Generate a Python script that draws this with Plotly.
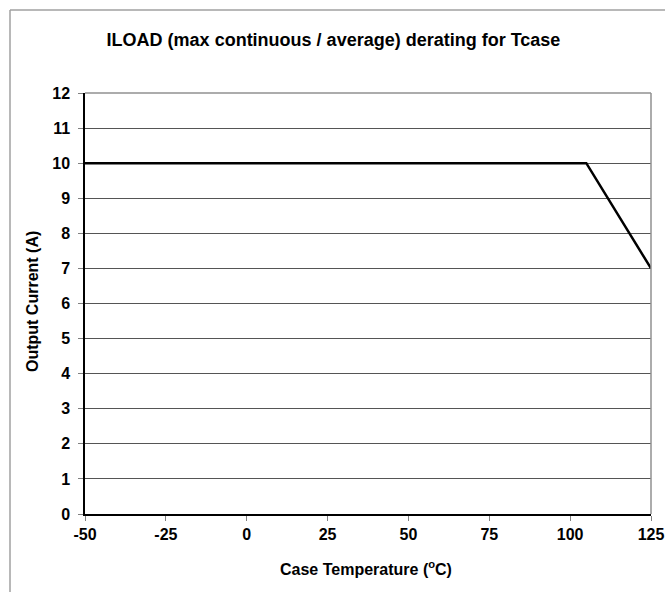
import plotly.graph_objects as go

temperature_c = [-50, 105, 125]
output_current_a = [10, 10, 7]
x_ticks = [-50, -25, 0, 25, 50, 75, 100, 125]
y_ticks = list(range(0, 13))

fig = go.Figure()
fig.add_trace(go.Scatter(x=temperature_c, y=output_current_a, mode="lines",
                         line=dict(color="black", width=2.5), showlegend=False,
                         cliponaxis=False))

W, H = 665, 592
L, T = 85, 93
R = W - 651
B = H - 514
pw, ph = W - L - R, H - T - B

def px_to_paper_x(px):
    return (px - L) / pw

def px_to_paper_y(py):
    return 1 - (py - T) / ph

font = "Liberation Sans, Arial, sans-serif"
fig.update_layout(
    width=W, height=H,
    margin=dict(l=L, r=R, t=T, b=B, autoexpand=False),
    paper_bgcolor="white", plot_bgcolor="white",
    title=dict(text="<b>ILOAD (max continuous / average) derating for Tcase</b>",
               x=333.5 / W, xanchor="center", xref="container",
               y=1 - 40 / H, yanchor="middle",
               yref="container", automargin=False,
               font=dict(family=font, size=18, color="black")),
    font=dict(family=font, color="black"),
)
fig.update_xaxes(range=[-50, 125], tickvals=x_ticks, ticktext=[f"<b>{v}</b>" for v in x_ticks],
                 showgrid=False, zeroline=False, showline=True, linecolor="black", linewidth=1.5,
                 ticks="outside", ticklen=5, tickcolor="#808080",
                 ticklabeloverflow="allow",
                 tickfont=dict(size=16, family=font), automargin=False)
fig.update_yaxes(range=[0, 12], tickvals=y_ticks, ticktext=[f"<b>{v}</b>" for v in y_ticks],
                 showgrid=True, gridcolor="#555555", gridwidth=1, zeroline=False,
                 showline=True, linecolor="black", linewidth=1.5,
                 ticks="outside", ticklen=5, tickcolor="#808080",
                 ticklabelstandoff=5,
                 tickfont=dict(size=16, family=font), automargin=False)

fig.add_annotation(text="<b>Case Temperature (<sup>o</sup>C)</b>", xref="paper", yref="paper",
                   x=px_to_paper_x(366), y=px_to_paper_y(568), xanchor="center", yanchor="middle",
                   showarrow=False, font=dict(size=16, family=font, color="black"))
fig.add_annotation(text="<b>Output Current (A)</b>", xref="paper", yref="paper",
                   x=px_to_paper_x(32), y=px_to_paper_y(302), xanchor="center", yanchor="middle",
                   textangle=-90, showarrow=False, font=dict(size=16, family=font, color="black"))

# plot area top/right grey border
fig.add_shape(type="line", xref="paper", yref="paper", x0=0, x1=1, y0=1, y1=1,
              line=dict(color="#909090", width=1.5))
fig.add_shape(type="line", xref="paper", yref="paper", x0=1, x1=1, y0=0, y1=1,
              line=dict(color="#909090", width=1.5))
# outer chart frame
fig.add_shape(type="line", xref="paper", yref="paper",
              x0=px_to_paper_x(10), x1=px_to_paper_x(680), y0=px_to_paper_y(10), y1=px_to_paper_y(10),
              line=dict(color="#a0a0a0", width=1.5))
fig.add_shape(type="line", xref="paper", yref="paper",
              x0=px_to_paper_x(10), x1=px_to_paper_x(10), y0=px_to_paper_y(10), y1=px_to_paper_y(610),
              line=dict(color="#a0a0a0", width=1.5))

fig.write_html("out.html", config={"displayModeBar": False},
               post_script="document.body.style.margin='0px';document.body.style.overflow='hidden';")
